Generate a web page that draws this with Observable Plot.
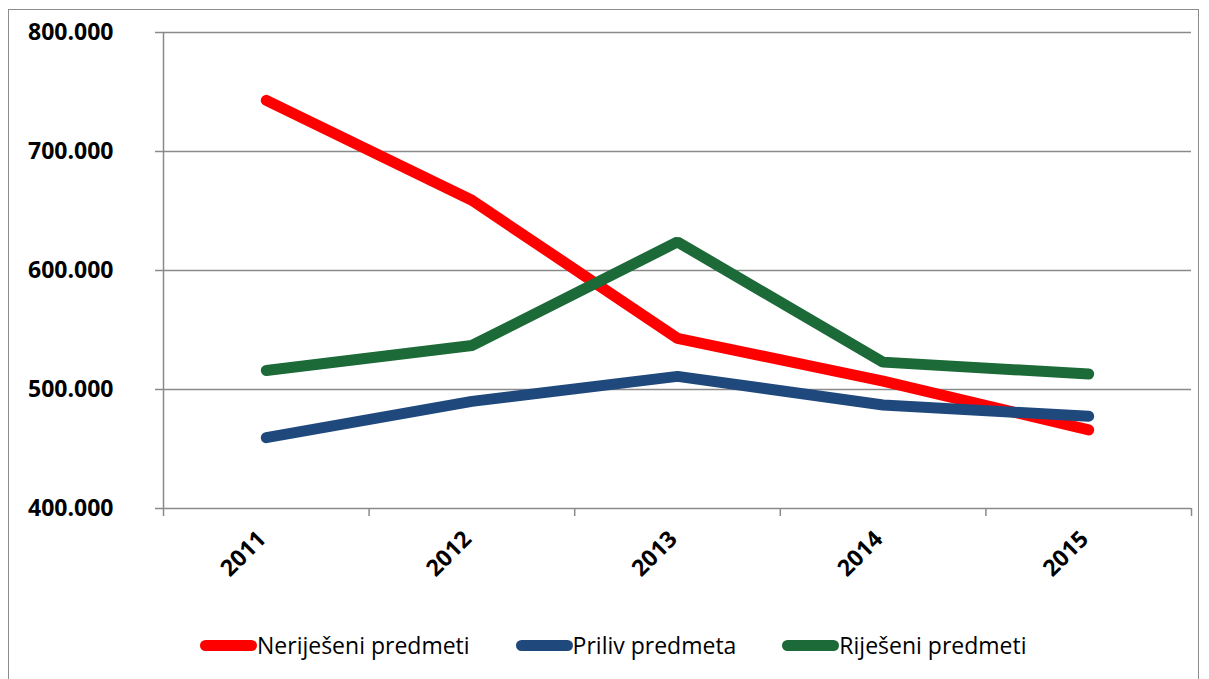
<!DOCTYPE html>
<html>
<head>
<meta charset="utf-8">
<script src="https://cdn.jsdelivr.net/npm/d3@7"></script>
<script src="https://cdn.jsdelivr.net/npm/@observablehq/plot@0.6"></script>
<style>
  html, body { margin: 0; padding: 0; background: #fff; width: 1209px; height: 679px; overflow: hidden; }
  #frame { position: absolute; left: 8px; top: 9px; width: 1191px; height: 700px; border: 1.5px solid #8c8c8c; box-sizing: border-box; }
  #chart { position: absolute; left: 0; top: 0; }
  #legend { position: absolute; left: 200px; top: 629px; display: flex; gap: 46px; font-family: "Open Sans", sans-serif; font-size: 23px; color: #000; align-items: center; }
  .item { display: flex; align-items: center; }
  .sw { width: 57px; height: 11px; border-radius: 6px; }
</style>
</head>
<body>
<div id="frame"></div>
<div id="chart"></div>
<div id="legend"></div>
<script>
const years = [2011, 2012, 2013, 2014, 2015];
const seriesNames = ["Neriješeni predmeti", "Priliv predmeta", "Riješeni predmeti"];
const seriesColors = ["#ff0000", "#1f497d", "#1b6a37"];
const nerijeseni = [743000, 659000, 543000, 507000, 466000];
const priliv = [459500, 490000, 511000, 487000, 477500];
const rijeseni = [516000, 537000, 624000, 523000, 513000];
const yTicks = [400000, 500000, 600000, 700000, 800000];

const seriesValues = [nerijeseni, priliv, rijeseni];
const data = [];
seriesNames.forEach((name, i) => {
  years.forEach((yr, j) => data.push({ series: name, year: yr, value: seriesValues[i][j] }));
});

const locale = d3.formatLocale({ decimal: ",", thousands: ".", grouping: [3], currency: ["", ""] });
const fmt = locale.format(",");

const boundaries = years.map(y => y - 0.5).concat([years[years.length - 1] + 0.5]);
const gray = "#8a8a8a";

const chart = Plot.plot({
  width: 1209,
  height: 610,
  marginTop: 32,
  marginBottom: 102,
  marginLeft: 163,
  marginRight: 18,
  style: { fontFamily: "Open Sans, sans-serif", fontSize: "23px", fontWeight: "bold", color: "#000", background: "transparent" },
  x: { type: "linear", domain: [boundaries[0], boundaries[boundaries.length - 1]], axis: null },
  y: { domain: [400000, 800000], axis: null },
  color: { domain: seriesNames, range: seriesColors },
  marks: [
    Plot.gridY(yTicks, { stroke: gray, strokeOpacity: 1, strokeWidth: 1.5 }),
    Plot.axisY(yTicks, { tickSize: 8, tickPadding: 42, tickFormat: fmt, label: null, stroke: gray, strokeWidth: 1.5, fill: "#000", fontWeight: "bold", fontSize: 23 }),
    Plot.ruleX([boundaries[0]], { stroke: gray, strokeWidth: 1.5 }),
    Plot.axisX(boundaries, { tickSize: 8, tickFormat: () => "", label: null, stroke: gray, strokeWidth: 1.5 }),
    Plot.text(years, { x: d => d, text: d => String(d), frameAnchor: "bottom", dy: 32, dx: 1, rotate: -45, textAnchor: "end", fontWeight: "bold", fontSize: 23, fill: "#000" }),
    Plot.line(data, { x: "year", y: "value", z: "series", stroke: "series", strokeWidth: 11, strokeLinecap: "round", strokeLinejoin: "miter" })
  ]
});
document.getElementById("chart").appendChild(chart);

const legend = document.getElementById("legend");
seriesNames.forEach((name, i) => {
  const item = document.createElement("div");
  item.className = "item";
  const sw = document.createElement("div");
  sw.className = "sw";
  sw.style.background = seriesColors[i];
  const label = document.createElement("span");
  label.textContent = name;
  item.appendChild(sw);
  item.appendChild(label);
  legend.appendChild(item);
});
</script>
</body>
</html>
